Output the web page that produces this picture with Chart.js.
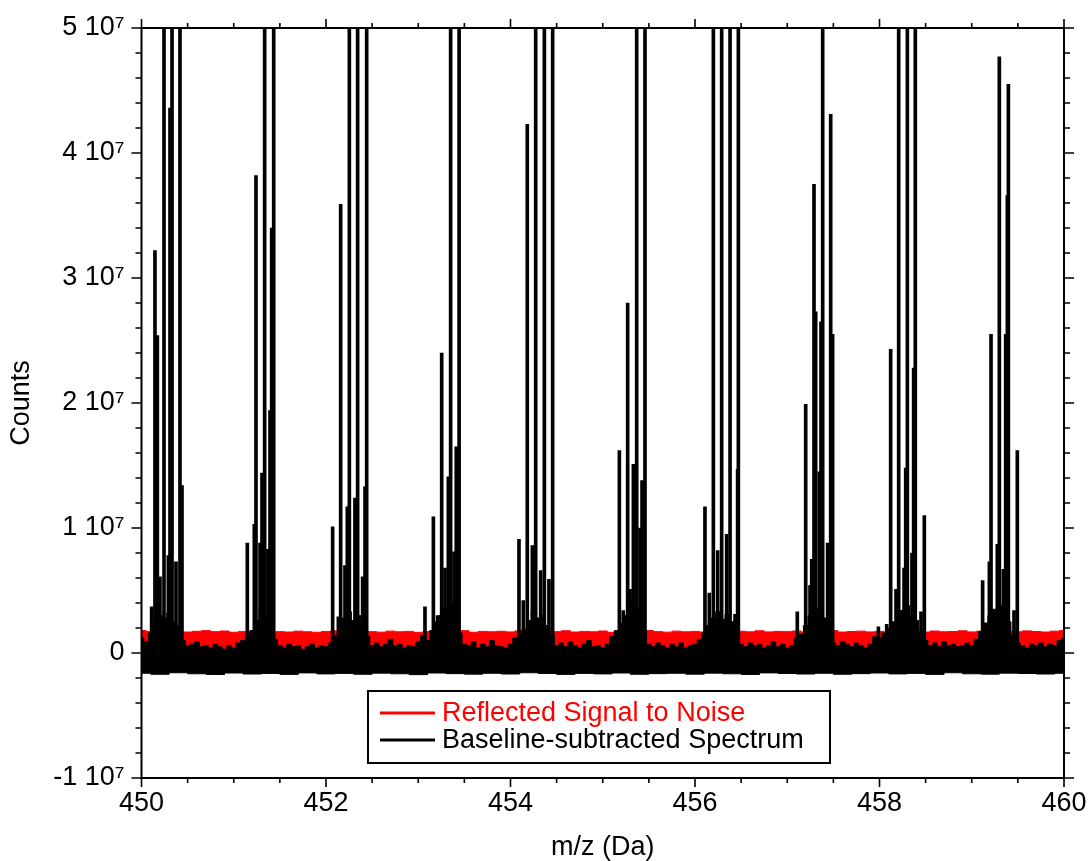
<!DOCTYPE html>
<html>
<head>
<meta charset="utf-8">
<script src="https://cdn.jsdelivr.net/npm/chart.js@4.4.0/dist/chart.umd.min.js"></script>
<style>
  html, body { margin: 0; padding: 0; background: #fff; }
</style>
</head>
<body>
<canvas id="specChart" width="1089" height="861"></canvas>
<script>
// axis ranges
var xMin = 450, xMax = 460, xMajor = 2, xMinor = 0.5;
var yMin = -1e7, yMax = 5e7, yMajor = 1e7, yMinor = 2e6;

// peaks of the baseline-subtracted spectrum (m/z, counts); 6e7 = off scale (clipped at top)
var peakMz = [
  450.110, 450.146, 450.172, 450.200, 450.244, 450.291, 450.309, 450.331, 450.374, 450.417, 450.439,
  451.147, 451.223, 451.241, 451.285, 451.306, 451.335, 451.371, 451.393, 451.411, 451.433,
  452.072, 452.134, 452.159, 452.206, 452.231, 452.253, 452.314, 452.343, 452.397, 452.423, 452.441,
  453.073, 453.164, 453.210, 453.254, 453.290, 453.326, 453.351, 453.388, 453.412, 453.443,
  454.092, 454.139, 454.182, 454.237, 454.273, 454.327, 454.367, 454.417, 454.457,
  455.180, 455.223, 455.270, 455.296, 455.332, 455.368, 455.404, 455.426, 455.458,
  456.108, 456.155, 456.199, 456.246, 456.289, 456.343, 456.380, 456.434, 456.462, 456.470,
  457.109, 457.200, 457.247, 457.265, 457.290, 457.308, 457.348, 457.366, 457.384, 457.438, 457.471, 457.492,
  457.988, 458.078, 458.121, 458.179, 458.208, 458.266, 458.284, 458.302, 458.352, 458.370, 458.388, 458.450, 458.486,
  459.118, 459.191, 459.209, 459.259, 459.277, 459.299, 459.342, 459.368, 459.386, 459.397, 459.458, 459.494
];
var peakCounts = [
  3.7e6, 32.2e6, 25.4e6, 6.1e6, 6e7, 7.8e6, 43.6e6, 6e7, 7.3e6, 6e7, 13.4e6,
  8.8e6, 10.3e6, 38.2e6, 8.8e6, 14.4e6, 6e7, 8.3e6, 19.4e6, 34.0e6, 6e7,
  10.1e6, 2.9e6, 35.9e6, 7.0e6, 11.7e6, 6e7, 12.4e6, 6e7, 6.1e6, 13.3e6, 6e7,
  3.7e6, 10.9e6, 3.0e6, 24.0e6, 6.8e6, 14.1e6, 6e7, 8.1e6, 16.5e6, 6e7,
  9.1e6, 4.2e6, 42.3e6, 8.6e6, 6e7, 6.6e6, 6e7, 5.9e6, 6e7,
  16.2e6, 3.4e6, 28.0e6, 5.1e6, 15.1e6, 6e7, 10.0e6, 13.8e6, 6e7,
  11.7e6, 4.8e6, 6e7, 8.2e6, 6e7, 9.5e6, 6e7, 3.1e6, 14.7e6, 6e7,
  3.3e6, 19.9e6, 5.4e6, 7.5e6, 37.5e6, 27.3e6, 14.5e6, 26.5e6, 6e7, 8.8e6, 43.1e6, 25.5e6,
  2.1e6, 2.3e6, 24.3e6, 5.1e6, 6e7, 6.8e6, 14.8e6, 6e7, 8.0e6, 22.8e6, 6e7, 3.3e6, 11.0e6,
  5.8e6, 7.3e6, 25.5e6, 3.3e6, 8.7e6, 47.7e6, 6.7e6, 25.5e6, 36.6e6, 45.5e6, 3.4e6, 16.2e6
];

// noise band of the spectrum: upper edge, every 0.05 Da from 450 (units of 1e6 counts)
var noiseStep = 0.05;
var noiseTop = [
  1.2, 0.9, 1.6, 2.5, 3.0, 2.8, 3.2, 2.5, 2.2, 1.0,
  0.6, 0.7, 0.9, 0.5, 0.6, 0.4, 0.7, 0.5, 0.3, 0.6,
  0.4, 0.8, 1.0, 1.4, 1.8, 2.6, 3.5, 3.0, 2.8, 1.1,
  0.6, 0.4, 0.7, 0.5, 0.6, 0.3, 0.5, 0.7, 0.4, 0.6,
  0.5, 0.8, 1.4, 2.0, 2.8, 3.3, 2.6, 3.0, 2.4, 1.3,
  0.6, 0.8, 0.5, 0.7, 1.1, 0.6, 0.7, 0.4, 0.6, 0.5,
  0.9, 1.4, 1.0, 1.8, 2.5, 3.0, 3.6, 4.0, 3.2, 1.6,
  0.7, 0.6, 0.9, 0.4, 0.7, 0.5, 1.0, 0.6, 0.5, 0.4,
  0.7, 1.2, 1.5, 1.9, 2.6, 3.4, 2.8, 3.0, 2.2, 1.4,
  0.6, 0.8, 0.5, 0.9, 0.6, 0.4, 0.7, 1.0, 0.5, 0.6,
  0.4, 0.7, 1.3, 1.8, 2.4, 3.0, 4.2, 4.8, 3.5, 1.8,
  0.7, 0.5, 0.8, 0.6, 0.4, 0.7, 0.5, 0.8, 0.4, 0.6,
  0.7, 1.1, 1.6, 2.2, 2.8, 3.3, 2.7, 3.1, 2.5, 1.8,
  0.7, 0.5, 0.8, 0.6, 0.7, 0.4, 0.6, 0.9, 0.5, 0.7,
  0.4, 0.6, 1.2, 1.5, 2.2, 3.0, 3.6, 3.2, 2.8, 1.8,
  0.8, 0.6, 0.9, 0.7, 0.5, 0.8, 0.6, 0.4, 0.7, 1.3,
  1.2, 1.6, 2.0, 2.5, 3.0, 3.4, 3.8, 3.0, 2.6, 1.6,
  1.0, 0.6, 0.8, 0.5, 0.9, 0.6, 0.7, 0.5, 0.6, 0.8,
  0.6, 1.1, 1.7, 2.4, 3.0, 3.5, 3.8, 3.2, 2.5, 1.4,
  0.8, 0.6, 0.4, 0.7, 0.6, 0.8, 0.5, 0.7, 0.6, 1.0,
  1.2
];

// noise band lower edge, every 0.2 Da (units of 1e6 counts)
var floorStep = 0.2;
var noiseBottom = [
  -1.62, -1.70, -1.58, -1.66, -1.72, -1.60, -1.68, -1.64, -1.71, -1.59,
  -1.67, -1.63, -1.70, -1.61, -1.66, -1.73, -1.60, -1.65, -1.69, -1.62,
  -1.68, -1.58, -1.64, -1.71, -1.63, -1.67, -1.60, -1.70, -1.65, -1.62,
  -1.69, -1.61, -1.66, -1.72, -1.59, -1.64, -1.68, -1.62, -1.70, -1.65,
  -1.60, -1.67, -1.63, -1.71, -1.58, -1.66, -1.69, -1.61, -1.64, -1.68,
  -1.62
];

// reflected signal-to-noise level, every 0.1 Da (units of 1e6 counts)
var snStep = 0.1;
var reflectedSN = [
  1.80, 1.72, 1.78, 1.70, 1.75, 1.68, 1.74, 1.79, 1.71, 1.76,
  1.66, 1.73, 1.69, 1.77, 1.64, 1.71, 1.68, 1.75, 1.70, 1.66,
  1.72, 1.78, 1.69, 1.74, 1.80, 1.71, 1.67, 1.75, 1.70, 1.73,
  1.65, 1.72, 1.76, 1.68, 1.71, 1.79, 1.66, 1.73, 1.70, 1.74,
  1.69, 1.77, 1.72, 1.67, 1.75, 1.71, 1.78, 1.68, 1.73, 1.70,
  1.76, 1.66, 1.72, 1.69, 1.74, 1.80, 1.71, 1.67, 1.75, 1.70,
  1.73, 1.68, 1.77, 1.72, 1.65, 1.74, 1.70, 1.78, 1.69, 1.73,
  1.71, 1.76, 1.67, 1.74, 1.70, 1.79, 1.68, 1.72, 1.75, 1.69,
  1.73, 1.66, 1.77, 1.71, 1.74, 1.68, 1.76, 1.70, 1.72, 1.78,
  1.69, 1.75, 1.71, 1.67, 1.74, 1.70, 1.77, 1.72, 1.68, 1.75,
  1.80
];

var FONT = '"Liberation Sans", Arial, Helvetica, sans-serif';
var FSIZE = 27;

function toPoints(vals, step) {
  var pts = [];
  for (var i = 0; i < vals.length; i++) {
    pts.push({x: xMin + i * step, y: vals[i] * 1e6});
  }
  return pts;
}

var peakPts = [];
for (var i = 0; i < peakMz.length; i++) peakPts.push({x: peakMz[i], y: peakCounts[i]});

// frame with ticks on all four sides, and the boxed legend
var frameAndLegend = {
  id: 'frameAndLegend',
  afterDatasetsDraw: function (chart) {
    var ctx = chart.ctx, a = chart.chartArea, xs = chart.scales.x, ys = chart.scales.y;
    ctx.save();
    ctx.strokeStyle = '#000';
    ctx.lineWidth = 2;
    ctx.strokeRect(a.left, a.top, a.right - a.left, a.bottom - a.top);
    ctx.lineWidth = 1.6;
    ctx.beginPath();
    var nx = Math.round((xMax - xMin) / xMinor);
    for (var i = 0; i <= nx; i++) {
      var px = xs.getPixelForValue(xMin + i * xMinor);
      var len = (i % Math.round(xMajor / xMinor) === 0) ? 9 : 5;
      ctx.moveTo(px, a.bottom); ctx.lineTo(px, a.bottom + len);
      ctx.moveTo(px, a.top); ctx.lineTo(px, a.top - len);
    }
    var ny = Math.round((yMax - yMin) / yMinor);
    for (var j = 0; j <= ny; j++) {
      var py = ys.getPixelForValue(yMin + j * yMinor);
      var ln = (j % Math.round(yMajor / yMinor) === 0) ? 10 : 6;
      ctx.moveTo(a.left, py); ctx.lineTo(a.left - ln, py);
      ctx.moveTo(a.right, py); ctx.lineTo(a.right + ln, py);
    }
    ctx.stroke();
    ctx.restore();
  },
  afterDraw: function (chart) {
    var ctx = chart.ctx;
    var items = chart.data.datasets.filter(function (d) { return d.inLegend; })
      .sort(function (p, q) { return p.inLegend - q.inLegend; });
    var bx = 368, by = 691, bw = 462, bh = 72;
    ctx.save();
    ctx.fillStyle = '#fff';
    ctx.fillRect(bx, by, bw, bh);
    ctx.strokeStyle = '#000';
    ctx.lineWidth = 2;
    ctx.strokeRect(bx, by, bw, bh);
    ctx.font = FSIZE + 'px ' + FONT;
    ctx.textBaseline = 'middle';
    for (var k = 0; k < items.length; k++) {
      var yy = by + 22 + k * 27;
      ctx.strokeStyle = items[k].borderColor;
      ctx.lineWidth = 3;
      ctx.beginPath();
      ctx.moveTo(bx + 12, yy); ctx.lineTo(bx + 67, yy);
      ctx.stroke();
      ctx.fillStyle = items[k].borderColor;
      ctx.fillText(items[k].label, bx + 74, yy + 1);
    }
    ctx.restore();
  }
};

Chart.defaults.font.family = FONT;
Chart.defaults.color = '#000';

var chart = new Chart(document.getElementById('specChart'), {
  type: 'line',
  data: {
    datasets: [
      {
        type: 'bar',
        label: 'Baseline-subtracted Spectrum',
        data: peakPts,
        backgroundColor: '#000',
        borderWidth: 0,
        barThickness: 3,
        grouped: false,
        clip: 0
      },
      {
        label: 'Baseline-subtracted Spectrum',
        inLegend: 2,
        data: toPoints(noiseTop, noiseStep),
        borderColor: '#000',
        backgroundColor: '#000',
        borderWidth: 1,
        pointRadius: 0,
        stepped: 'middle',
        fill: 3
      },
      {
        label: 'Reflected Signal to Noise',
        inLegend: 1,
        data: toPoints(reflectedSN, snStep),
        borderColor: '#ff0000',
        backgroundColor: '#ff0000',
        borderWidth: 1,
        pointRadius: 0,
        stepped: 'middle',
        fill: 'origin'
      },
      {
        label: 'noise floor',
        data: toPoints(noiseBottom, floorStep),
        borderColor: '#000',
        borderWidth: 1,
        pointRadius: 0,
        stepped: 'middle',
        fill: false
      }
    ]
  },
  options: {
    responsive: false,
    animation: false,
    events: [],
    layout: { padding: { left: 0, right: 25, top: 28, bottom: 0 } },
    plugins: { legend: { display: false }, tooltip: { enabled: false } },
    scales: {
      x: {
        type: 'linear',
        min: xMin, max: xMax,
        offset: false,
        grid: { display: false, drawTicks: false },
        border: { display: false },
        ticks: { stepSize: xMajor, padding: 9, font: { size: FSIZE }, color: '#000' },
        title: { display: true, text: 'm/z (Da)', font: { size: FSIZE, lineHeight: 1.0 }, color: '#000', padding: { top: 0, bottom: 0 } },
        afterFit: function (s) { s.height = 83; s.paddingLeft = 0; s.paddingRight = 0; }
      },
      y: {
        min: yMin, max: yMax,
        grid: { display: false, drawTicks: false },
        border: { display: false },
        ticks: {
          stepSize: yMajor, padding: 17, font: { size: FSIZE }, color: '#000',
          callback: function (v) { return v === 0 ? '0' : (v / 1e7) + ' 10\u2077'; }
        },
        title: { display: true, text: 'Counts', font: { size: FSIZE }, color: '#000', padding: { top: 5, bottom: 0 } },
        afterFit: function (s) { s.width = 141.5; s.paddingTop = 0; s.paddingBottom = 0; }
      }
    }
  },
  plugins: [frameAndLegend]
});
</script>
</body>
</html>
